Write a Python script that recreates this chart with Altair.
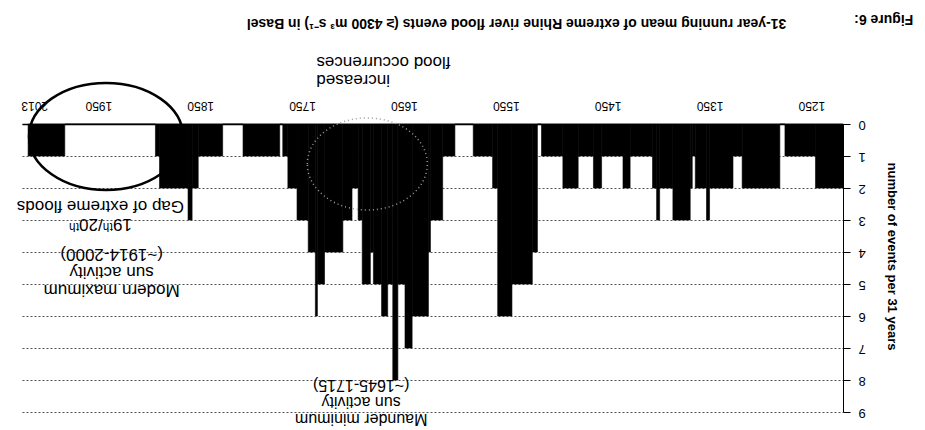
import altair as alt
import pandas as pd

# ---- data: 31-year running count of extreme Rhine floods in Basel (constant segments) ----
seg_start = [1219, 1246, 1276, 1281, 1318, 1327, 1350, 1353, 1364, 1367,
             1369, 1386, 1399, 1402, 1406, 1428, 1435, 1456, 1464, 1479,
             1494, 1515, 1519, 1524, 1544, 1558, 1563, 1582, 1600, 1612,
             1624, 1626, 1642, 1649, 1656, 1661, 1666, 1672, 1680, 1683,
             1691, 1695, 1701, 1710, 1728, 1735, 1737, 1744, 1755, 1764,
             1769, 1772, 1808, 1828, 1852, 1858, 1862, 1890, 1894, 1983]
seg_end = seg_start[1:] + [2019]
events = [2, 1, 0, 2, 1, 2, 3, 2, 1, 2,
          3, 2, 3, 2, 1, 2, 1, 2, 1, 2,
          1, 0, 4, 5, 6, 2, 1, 0, 1, 3,
          4, 6, 7, 5, 8, 5, 6, 5, 4, 5,
          3, 2, 3, 4, 5, 6, 4, 3, 2, 1,
          0, 1, 0, 1, 2, 3, 2, 1, 0, 1]

year_ticks = [1250, 1350, 1450, 1550, 1650, 1750, 1850, 1950, 2013]
event_ticks = [0, 1, 2, 3, 4, 5, 6, 7, 8, 9]

title_text = "31-year running mean of extreme Rhine river flood events (\u2265 4300 m\u00b3 s\u207b\u00b9) in Basel"
y_title = "number of events per 31 years"

figure_label = ["Figure 6:"]
figure_year = [1179]
figure_value = [-3.28]

lead_text = ["increased\nflood occurrences"]
lead_year = [1736]
lead_value = [-1.38]

gap_text = ["19\u1d57\u02b0/20\u1d57\u02b0\nGap of extreme floods"]
gap_year = [1948]
gap_value = [3.12]

modern_text = ["Modern maximum\nsun activity\n(~1914-2000)"]
modern_year = [1937]
modern_value = [5.19]

maunder_text = ["Maunder minimum\nsun activity\n(~1645-1715)"]
maunder_year = [1692]
maunder_value = [9.22]

ring_year = [1942.5]
ring_value = [0.39]
dot_ring_year = [1686]
dot_ring_value = [1.25]

FONT = "Liberation Sans"


def ellipse_path(k):
    c = 0.5523
    return (f"M -1 0 C -1 {-k*c:.4f} {-c:.4f} {-k:.4f} 0 {-k:.4f} "
            f"C {c:.4f} {-k:.4f} 1 {-k*c:.4f} 1 0 "
            f"C 1 {k*c:.4f} {c:.4f} {k:.4f} 0 {k:.4f} "
            f"C {-c:.4f} {k:.4f} -1 {k*c:.4f} -1 0 Z")


bars_df = pd.DataFrame({"year": seg_start, "year_end": seg_end, "value": events})
ring_df = pd.DataFrame({"year": ring_year, "value": ring_value})
dot_df = pd.DataFrame({"year": dot_ring_year, "value": dot_ring_value})

x_scale = alt.Scale(domain=[1219, 2025], reverse=True, nice=False, zero=False)
y_scale = alt.Scale(domain=[0, 9], reverse=True, nice=False, zero=False)

x_axis = alt.Axis(orient="top", values=year_ticks, format="d", labelAngle=180,
                  labelAlign="center", labelBaseline="top", ticks=False, tickSize=0,
                  labelPadding=14, labelFontSize=12, labelFont=FONT, labelColor="black",
                  labelFlush=False, labelOverlap=False, domainColor="black",
                  domainWidth=1.5, grid=False, title=None)

y_axis = alt.Axis(orient="right", values=event_ticks, labelAngle=180, labelAlign="right",
                  labelBaseline="middle", labelFontSize=13, labelFont=FONT,
                  labelColor="black", labelPadding=8, tickSize=7, tickColor="black",
                  domainColor="black", grid=True, gridColor="#555555", gridDash=[2, 2],
                  gridWidth=1, title=y_title, titleAngle=90, titleFontSize=13,
                  titleFont=FONT, titleFontWeight="bold", titleColor="black",
                  titleX=48, titleY=132, titleAlign="center", titleBaseline="middle")

xe = alt.X("year:Q", scale=x_scale, axis=x_axis)
ye = alt.Y("value:Q", scale=y_scale, axis=y_axis)

bars = alt.Chart(bars_df).mark_rect(color="black", stroke="black", strokeWidth=0.6).encode(
    x=xe, x2="year_end:Q", y=ye, y2=alt.datum(0),
)

ring = alt.Chart(ring_df).mark_point(
    shape=ellipse_path(0.695), size=23716, filled=False, stroke="black",
    strokeWidth=2.5, opacity=1).encode(x=xe, y=ye)

dot_ring = alt.Chart(dot_df).mark_point(
    shape=ellipse_path(0.767), size=14400, filled=False, stroke="#9a9a9a",
    strokeWidth=1.5, strokeDash=[1, 3], opacity=1).encode(x=xe, y=ye)


def note_layer(texts, years, values, size, line_h, align="center", weight="normal"):
    df = pd.DataFrame({"text": texts, "year": years, "value": values})
    return alt.Chart(df).mark_text(
        angle=180, align=align, baseline="middle", font=FONT, fontSize=size,
        fontWeight=weight, lineHeight=line_h, lineBreak="\n", color="black",
    ).encode(x=xe, y=ye, text="text:N")


lead = note_layer(lead_text, lead_year, lead_value, 17, 18, align="right")
gap = note_layer(gap_text, gap_year, gap_value, 17, 18)
modern = note_layer(modern_text, modern_year, modern_value, 17, 18)
maunder = note_layer(maunder_text, maunder_year, maunder_value, 16, 17)
fig = note_layer(figure_label, figure_year, figure_value, 14, 16, weight="bold")

chart = alt.layer(bars, ring, dot_ring, lead, gap, modern, maunder, fig).properties(
    width=821,
    height=288,
    padding={"left": 14, "top": 116, "right": 74, "bottom": 16},
    autosize=alt.AutoSizeParams(type="none"),
    background="white",
    title=alt.Title(title_text, angle=180, fontSize=14, fontWeight="bold", font=FONT,
                    color="black", anchor="middle", frame="group", baseline="top",
                    offset=-32, dx=-84),
).configure_view(strokeWidth=0)

chart.save("out.html", embed_options={"renderer": "svg", "actions": False})
